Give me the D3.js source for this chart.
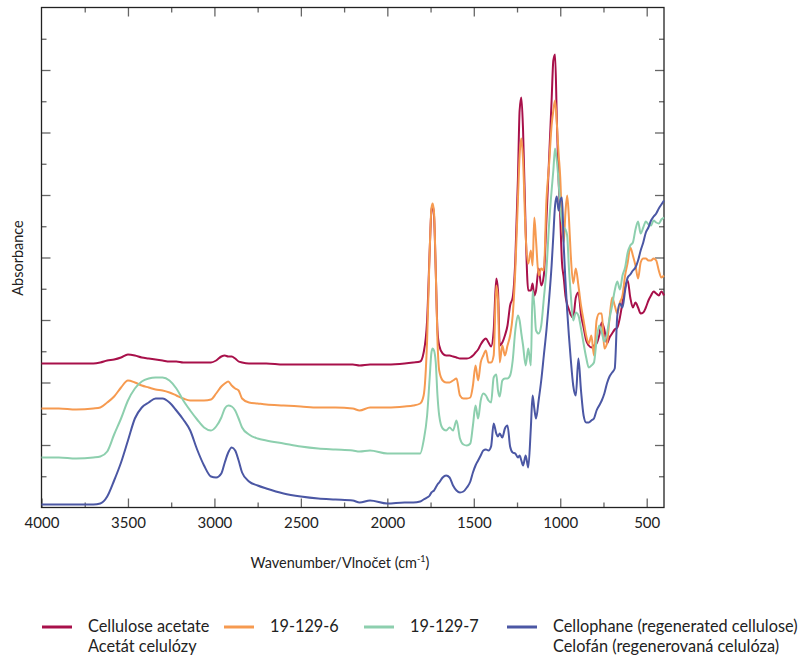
<!DOCTYPE html>
<html>
<head>
<meta charset="utf-8">
<script src="https://cdn.jsdelivr.net/npm/d3@7"></script>
<style>
  body { margin: 0; background: #fff; }
  svg { display: block; font-family: Lato, "Open Sans", sans-serif; }
</style>
</head>
<body>
<div id="chart"></div>
<script>
// wavenumber grid (cm-1), shared by all four spectra
const wavenumbers = [
  4000, 3900, 3800, 3700, 3660, 3620, 3580, 3540, 3500, 3460,
  3420, 3380, 3340, 3300, 3260, 3220, 3180, 3140, 3100, 3060,
  3020, 2990, 2960, 2940, 2920, 2900, 2880, 2860, 2840, 2800,
  2750, 2700, 2600, 2500, 2400, 2300, 2200, 2160, 2100, 2000,
  1900, 1850, 1810, 1790, 1770, 1755, 1745, 1738, 1730, 1720,
  1710, 1700, 1680, 1660, 1640, 1620, 1600, 1580, 1560, 1540,
  1520, 1505, 1490, 1475, 1460, 1445, 1430, 1415, 1400, 1385,
  1370, 1360, 1350, 1335, 1320, 1305, 1290, 1275, 1260, 1245,
  1235, 1225, 1215, 1200, 1185, 1170, 1160, 1150, 1140, 1125,
  1110, 1095, 1080, 1065, 1050, 1040, 1030, 1020, 1010, 1000,
  990, 980, 970, 960, 950, 940, 925, 910, 895, 880,
  865, 850, 835, 820, 805, 790, 775, 760, 745, 730,
  715, 700, 685, 670, 655, 640, 625, 610, 595, 580,
  565, 550, 535, 520, 505, 490, 475, 460, 445, 430,
  415, 400
];

// absorbance (offset, arbitrary units)
const acetate = [
  1.44, 1.44, 1.44, 1.44, 1.45, 1.47, 1.48, 1.50, 1.53, 1.52,
  1.50, 1.49, 1.48, 1.47, 1.46, 1.46, 1.45, 1.45, 1.45, 1.45,
  1.45, 1.47, 1.51, 1.52, 1.51, 1.51, 1.49, 1.46, 1.45, 1.44,
  1.44, 1.44, 1.43, 1.43, 1.43, 1.43, 1.43, 1.42, 1.43, 1.43,
  1.44, 1.45, 1.46, 1.55, 1.87, 2.57, 2.97, 3.02, 2.92, 2.37,
  1.77, 1.62, 1.54, 1.52, 1.52, 1.51, 1.50, 1.49, 1.49, 1.49,
  1.50, 1.52, 1.55, 1.58, 1.63, 1.67, 1.69, 1.65, 1.61, 1.77,
  2.29, 2.17, 1.62, 1.65, 1.72, 1.82, 2.02, 2.10, 2.47, 3.27,
  3.97, 4.10, 3.77, 2.77, 2.17, 2.17, 2.24, 2.12, 2.17, 2.39,
  2.22, 2.32, 2.87, 3.47, 4.07, 4.47, 4.53, 3.90, 3.30, 2.90,
  2.45, 2.30, 2.12, 2.03, 1.98, 1.93, 1.90, 2.10, 2.15, 1.93,
  1.80, 1.67, 1.62, 1.60, 1.62, 1.64, 1.72, 1.85, 1.78, 1.64,
  1.70, 1.74, 1.78, 1.80, 1.90, 2.05, 2.20, 2.27, 2.10, 2.00,
  2.05, 2.00, 1.94, 1.95, 2.00, 2.07, 2.12, 2.16, 2.14, 2.12,
  2.16, 2.12
];

const sample6 = [
  0.99, 0.99, 0.98, 0.99, 1.00, 1.05, 1.11, 1.20, 1.27, 1.25,
  1.22, 1.20, 1.18, 1.17, 1.15, 1.12, 1.09, 1.07, 1.07, 1.07,
  1.08, 1.14, 1.21, 1.24, 1.26, 1.22, 1.19, 1.17, 1.09, 1.05,
  1.04, 1.03, 1.02, 1.01, 1.00, 1.00, 0.99, 0.97, 1.00, 1.00,
  1.01, 1.02, 1.04, 1.12, 1.67, 2.57, 2.99, 3.04, 2.95, 2.37,
  1.67, 1.37, 1.27, 1.25, 1.25, 1.27, 1.29, 1.12, 1.09, 1.09,
  1.10, 1.22, 1.42, 1.27, 1.45, 1.52, 1.57, 1.45, 1.45, 1.52,
  2.22, 2.07, 1.45, 1.62, 1.52, 1.62, 1.72, 1.92, 2.37, 3.07,
  3.52, 3.69, 3.47, 2.72, 2.44, 2.57, 2.42, 2.90, 2.67, 2.32,
  2.39, 2.37, 3.07, 3.42, 3.82, 3.97, 4.07, 3.85, 3.55, 3.30,
  2.85, 2.65, 2.95, 3.12, 2.90, 2.55, 2.24, 2.39, 2.22, 2.02,
  1.87, 1.72, 1.64, 1.72, 1.52, 1.87, 1.94, 1.94, 1.59, 1.64,
  1.89, 2.10, 2.02, 1.94, 2.05, 2.12, 2.32, 2.45, 2.60, 2.52,
  2.42, 2.29, 2.45, 2.49, 2.49, 2.47, 2.47, 2.49, 2.47, 2.37,
  2.30, 2.32
];

const sample7 = [
  0.50, 0.50, 0.49, 0.50, 0.51, 0.56, 0.73, 0.89, 1.07, 1.19,
  1.26, 1.29, 1.30, 1.30, 1.27, 1.19, 1.07, 0.97, 0.88, 0.80,
  0.77, 0.81, 0.90, 0.99, 1.02, 1.01, 0.97, 0.89, 0.80, 0.73,
  0.69, 0.67, 0.64, 0.61, 0.59, 0.58, 0.57, 0.56, 0.57, 0.54,
  0.54, 0.54, 0.54, 0.67, 0.92, 1.30, 1.55, 1.59, 1.57, 1.45,
  1.12, 0.92, 0.79, 0.77, 0.80, 0.77, 0.87, 0.69, 0.63, 0.62,
  0.64, 0.82, 1.02, 0.89, 1.07, 1.14, 1.12, 1.07, 1.05, 1.30,
  1.33, 1.17, 1.11, 1.27, 1.29, 1.29, 1.32, 1.47, 1.77, 1.92,
  1.87, 1.74, 1.62, 1.42, 1.59, 1.42, 2.17, 2.02, 1.77, 1.74,
  1.82, 2.09, 2.37, 2.82, 3.17, 3.37, 3.59, 3.47, 3.27, 3.00,
  2.85, 2.80, 2.78, 2.72, 2.40, 2.15, 1.87, 1.95, 1.92, 1.79,
  1.64, 1.50, 1.40, 1.42, 1.45, 1.67, 1.82, 1.75, 1.66, 1.74,
  1.89, 2.02, 2.17, 2.26, 2.18, 2.32, 2.40, 2.55, 2.62, 2.65,
  2.78, 2.86, 2.74, 2.80, 2.86, 2.83, 2.82, 2.87, 2.85, 2.84,
  2.88, 2.90
];

const cellophane = [
  0.03, 0.03, 0.03, 0.03, 0.04, 0.11, 0.27, 0.45, 0.67, 0.89,
  1.00, 1.05, 1.09, 1.09, 1.05, 0.97, 0.88, 0.77, 0.58, 0.42,
  0.31, 0.30, 0.34, 0.45, 0.55, 0.60, 0.57, 0.47, 0.35, 0.26,
  0.22, 0.19, 0.14, 0.11, 0.09, 0.08, 0.07, 0.05, 0.07, 0.04,
  0.05, 0.05, 0.06, 0.08, 0.10, 0.12, 0.15, 0.16, 0.17, 0.20,
  0.23, 0.25, 0.30, 0.32, 0.30, 0.22, 0.17, 0.15, 0.16, 0.20,
  0.26, 0.35, 0.42, 0.47, 0.52, 0.57, 0.58, 0.57, 0.61, 0.84,
  0.74, 0.71, 0.74, 0.70, 0.79, 0.82, 0.61, 0.55, 0.54, 0.50,
  0.52, 0.47, 0.42, 0.52, 0.40, 0.80, 1.12, 0.99, 0.89, 1.07,
  1.27, 1.52, 1.77, 2.07, 2.42, 2.72, 3.02, 3.11, 2.97, 3.07,
  3.10, 2.62, 2.27, 1.97, 1.72, 1.50, 1.22, 1.12, 1.49, 1.17,
  0.92, 0.85, 0.85, 0.87, 0.89, 0.97, 1.02, 1.07, 1.14, 1.24,
  1.31, 1.35, 1.39, 1.92, 2.04, 2.00, 2.17, 2.30, 2.33, 2.37,
  2.40, 2.47, 2.57, 2.65, 2.75, 2.80, 2.87, 2.91, 2.94, 2.99,
  3.03, 3.07
];

const seriesNames = ["Cellulose acetate", "19-129-6", "19-129-7", "Cellophane (regenerated cellulose)"];
const seriesNamesCz = ["Acetát celulózy", "", "", "Celofán (regenerovaná celulóza)"];
const seriesColors = ["#a8104a", "#f69a50", "#8dcfae", "#4b57a4"];

const xMajorTicks = [4000, 3500, 3000, 2500, 2000, 1500, 1000, 500];
const xMinorTicks = [3750, 3250, 2750, 2250, 1750, 1250, 750];

const width = 809, height = 658;
const plot = {left: 41.5, right: 664, top: 7.5, bottom: 507.5};

const x = d3.scaleLinear().domain([4000, 400]).range([plot.left, plot.right]);
const y = d3.scaleLinear().domain([0, 5]).range([plot.bottom, plot.top]);

// 16 equal divisions on the unlabeled absorbance axis
const yStep = 5 / 16;
const yMajorTicks = d3.range(2, 16, 2).map(i => i * yStep);
const yMinorTicks = d3.range(1, 16, 2).map(i => i * yStep);

const svg = d3.select("#chart").append("svg")
    .attr("width", width)
    .attr("height", height)
    .attr("viewBox", [0, 0, width, height]);

function styleTicks(g) {
  g.select(".domain").remove();
  g.selectAll(".tick line").attr("stroke", "#666").attr("stroke-width", 1.3);
}

// bottom axis with labels
svg.append("g")
    .attr("transform", `translate(0,${plot.bottom})`)
    .call(d3.axisBottom(x).tickValues(xMajorTicks).tickSize(-9).tickPadding(10).tickFormat(d3.format("d")))
    .call(styleTicks)
    .call(g => g.selectAll(".tick text")
        .attr("font-family", "Lato, 'Open Sans', sans-serif")
        .attr("font-size", 15)
        .attr("fill", "#222"));
svg.append("g")
    .attr("transform", `translate(0,${plot.bottom})`)
    .call(d3.axisBottom(x).tickValues(xMinorTicks).tickSize(-5).tickFormat(""))
    .call(styleTicks);

// top mirror ticks
svg.append("g")
    .attr("transform", `translate(0,${plot.top})`)
    .call(d3.axisTop(x).tickValues(xMajorTicks.slice(1)).tickSize(-9).tickFormat(""))
    .call(styleTicks);
svg.append("g")
    .attr("transform", `translate(0,${plot.top})`)
    .call(d3.axisTop(x).tickValues(xMinorTicks).tickSize(-5).tickFormat(""))
    .call(styleTicks);

// left and right ticks
[[d3.axisLeft, plot.left], [d3.axisRight, plot.right]].forEach(([axis, pos]) => {
  svg.append("g")
      .attr("transform", `translate(${pos},0)`)
      .call(axis(y).tickValues(yMajorTicks).tickSize(-9).tickFormat(""))
      .call(styleTicks);
  svg.append("g")
      .attr("transform", `translate(${pos},0)`)
      .call(axis(y).tickValues(yMinorTicks).tickSize(-5).tickFormat(""))
      .call(styleTicks);
});

// frame
svg.append("rect")
    .attr("x", plot.left).attr("y", plot.top)
    .attr("width", plot.right - plot.left).attr("height", plot.bottom - plot.top)
    .attr("fill", "none").attr("stroke", "#222").attr("stroke-width", 1.3);

// spectra
const allSeries = [acetate, sample6, sample7, cellophane];
const line = d3.line()
    .x((d, i) => x(wavenumbers[i]))
    .y(d => y(d))
    .curve(d3.curveMonotoneX);

svg.append("g")
    .selectAll("path")
    .data(allSeries)
    .join("path")
    .attr("fill", "none")
    .attr("stroke", (d, i) => seriesColors[i])
    .attr("stroke-width", 2)
    .attr("stroke-linejoin", "round")
    .attr("d", line);

// axis titles
const xTitle = svg.append("text")
    .attr("x", 340).attr("y", 568)
    .attr("text-anchor", "middle")
    .attr("font-size", 14.5)
    .attr("fill", "#222");
xTitle.append("tspan").text("Wavenumber/Vlnočet (cm");
xTitle.append("tspan").attr("font-size", 9).attr("dy", -6).text("-1");
xTitle.append("tspan").attr("dy", 6).text(")");

svg.append("text")
    .attr("transform", "translate(23,258) rotate(-90)")
    .attr("text-anchor", "middle")
    .attr("font-size", 14.5)
    .attr("fill", "#222")
    .text("Absorbance");

// legend
const legendX = [42, 224, 364, 507];
const legend = svg.append("g")
    .selectAll("g")
    .data(seriesNames)
    .join("g")
    .attr("transform", (d, i) => `translate(${legendX[i]},627)`);

legend.append("line")
    .attr("x1", 0).attr("x2", 30)
    .attr("stroke", (d, i) => seriesColors[i])
    .attr("stroke-width", 3);

legend.append("text")
    .attr("x", 46).attr("y", 5)
    .attr("font-size", 16.3)
    .attr("fill", "#222")
    .text(d => d);

legend.append("text")
    .attr("x", 46).attr("y", 25)
    .attr("font-size", 16.3)
    .attr("fill", "#222")
    .text((d, i) => seriesNamesCz[i]);
</script>
</body>
</html>
